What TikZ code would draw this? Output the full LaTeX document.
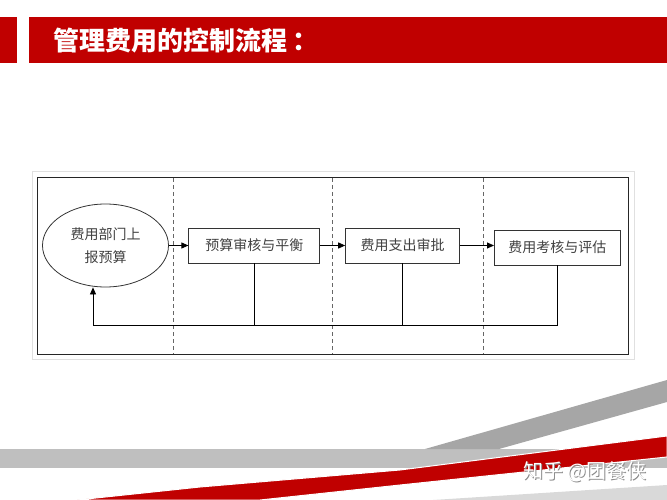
\documentclass[tikz,border=0pt]{standalone}
\usepackage{fontspec}
\usepackage{tikz}
\usetikzlibrary{positioning}
\usetikzlibrary{shapes.geometric}
\usetikzlibrary{arrows.meta}
\newfontfamily\cjk{Noto Sans CJK SC}
\definecolor{hdred}{HTML}{C00000}
\definecolor{txtgray}{HTML}{404040}
\newlength{\gap}
\setlength{\gap}{1pt}

\begin{document}
\begin{tikzpicture}[x=1pt, y=-1pt,
    proc/.style={draw=black!80, line width=0.8pt, minimum height=35pt, inner sep=0pt,
      font=\cjk\fontsize{14}{23}\selectfont, text=txtgray},
    flow/.style={-{Triangle[length=7pt,width=6pt]}, line width=0.8pt},
    lane/.style={dash pattern=on 4pt off 3pt, draw=black!60, line width=0.8pt}]

    \useasboundingbox (0,0) rectangle (667,500);

    % Header bar
    \fill[hdred] (0,17) rectangle (17,63);
    \fill[hdred] (29,17) rectangle (667,63);
    \node[anchor=west, inner sep=0pt, text=white, font=\cjk\bfseries\fontsize{26}{28}\selectfont] (title) at (53,41) {管理费用的控制流程\kern5pt：};

    % Frame and lanes
    \draw[black!12] (32,171) rectangle (634,359);
    \draw[black!85, line width=0.8pt] (37,177) rectangle (628,354);
    \foreach \x in {173,332,483} \draw[lane] (\x,178) -- (\x,354);

    % Process nodes
    \node[proc, ellipse, minimum width=126pt, minimum height=83pt, align=center] (dept) at (105.5,245.5) {费用部门上\\报预算};
    \node[proc, minimum width=131pt, right=19.5\gap of dept] (audit) {预算审核与平衡};
    \node[proc, minimum width=114pt, right=25\gap of audit] (approve) {费用支出审批};
    \node[proc, minimum width=126pt, right=34\gap of approve, yshift=-2\gap] (review) {费用考核与评估};

    % Forward flow
    \draw[flow] (dept) -- (audit);
    \draw[flow] (audit) -- (approve);
    \draw[flow] (approve.east) -- (approve.east -| review.west);

    % Feedback to the department
    \coordinate (back) at (93,325);
    \draw[flow] (review.south) |- (back) -- (back |- dept.south);
    \draw[line width=0.8pt] (audit.south) -- (audit.south |- back);
    \draw[line width=0.8pt] (approve.south) -- (approve.south |- back);

    % Bottom stripes
    \fill[black!25] (0,449) rectangle (667,468);
    \fill[black!35] (425,449) -- (667,380) -- (667,402) -- (499,449) -- cycle;
    \fill[black!15] (433,500) -- (667,485) -- (667,500) -- cycle;
    \filldraw[fill=hdred, draw=white, line width=1pt] (77,500) -- (200,487) -- (400,470) -- (667,436) -- (667,457) -- (400,485) -- (260,500) -- cycle;

    % Watermark
    \node[anchor=west, inner sep=0pt, text=black!45, font=\cjk\fontsize{20}{21}\selectfont] (markshadow) at (523.8,472.8) {知乎 @团餐侠};
    \node[anchor=west, inner sep=0pt, text=white, font=\cjk\fontsize{20}{21}\selectfont] (mark) at (523,472) {知乎 @团餐侠};
\end{tikzpicture}
\end{document}
